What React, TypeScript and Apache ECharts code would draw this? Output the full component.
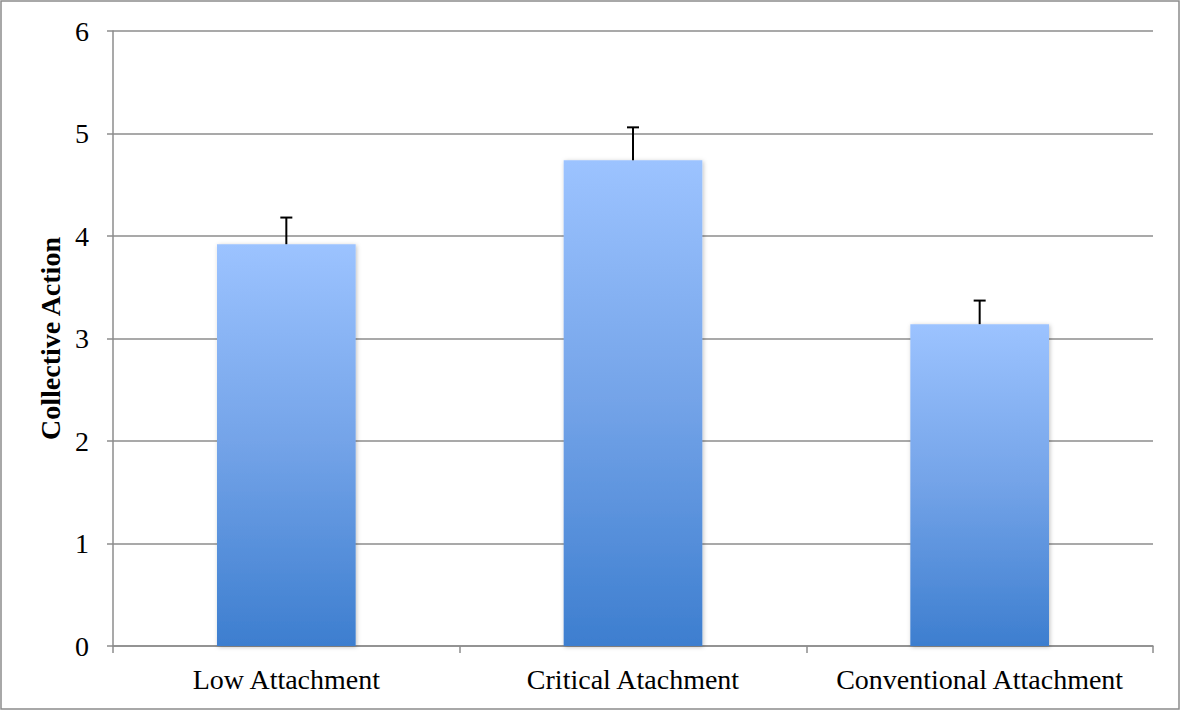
import React, { useEffect, useRef } from "react";
import * as echarts from "echarts";

const categories = ["Low Attachment", "Critical Atachment", "Conventional Attachment"];
const means = [3.92, 4.74, 3.14];
const errors = [0.26, 0.32, 0.23];
const yTicks = { min: 0, max: 6, interval: 1 };

export default function App() {
  const ref = useRef<HTMLDivElement>(null);
  useEffect(() => {
    document.body.style.margin = "0";
    const chart = echarts.init(ref.current!, undefined, { renderer: "svg" });
    const font = "'Liberation Serif', 'DejaVu Serif', serif";
    chart.setOption({
      animation: false,
      backgroundColor: "#ffffff",
      grid: { left: 113, right: 28, top: 31, bottom: 65, containLabel: false },
      graphic: [
        {
          type: "rect",
          shape: { x: 1, y: 1, width: 1178, height: 708 },
          style: { fill: "none", stroke: "#8c8c8c", lineWidth: 1.5 },
          silent: true,
        },
      ],
      xAxis: {
        type: "category",
        data: categories,
        axisLine: { lineStyle: { color: "#8c8c8c", width: 1.5 } },
        axisTick: { show: true, length: 7, lineStyle: { color: "#8c8c8c", width: 1.5 } },
        axisLabel: { color: "#000", fontFamily: font, fontSize: 28, margin: 19, interval: 0, hideOverlap: false },
      },
      yAxis: {
        type: "value",
        min: yTicks.min,
        max: yTicks.max,
        interval: yTicks.interval,
        name: "Collective Action",
        nameLocation: "middle",
        nameGap: 47,
        nameTextStyle: { color: "#000", fontFamily: font, fontSize: 28, fontWeight: "bold" },
        axisLine: { show: true, lineStyle: { color: "#8c8c8c", width: 1.5 } },
        axisTick: { show: true, length: 6, lineStyle: { color: "#8c8c8c", width: 1.5 } },
        axisLabel: { color: "#000", fontFamily: font, fontSize: 28, margin: 24 },
        splitLine: { lineStyle: { color: "#8c8c8c", width: 1.5 } },
      },
      series: [
        {
          type: "bar",
          data: means,
          barWidth: "40%",
          itemStyle: {
            color: new echarts.graphic.LinearGradient(0, 0, 0, 1, [
              { offset: 0, color: "#9cc3ff" },
              { offset: 0.5, color: "#73a3e8" },
              { offset: 1, color: "#3d7ecf" },
            ]),
            shadowColor: "rgba(0,0,0,0.25)",
            shadowBlur: 4,
            shadowOffsetX: 1,
            shadowOffsetY: 1,
          },
          z: 2,
        },
        {
          type: "custom",
          z: 5,
          data: means.map((m, i) => [i, m, m + errors[i]]),
          renderItem: (params: any, api: any) => {
            const x = api.value(0);
            const lo = api.coord([x, api.value(1)]);
            const hi = api.coord([x, api.value(2)]);
            const cap = 6;
            return {
              type: "group",
              children: [
                {
                  type: "line",
                  shape: { x1: lo[0], y1: lo[1], x2: hi[0], y2: hi[1] },
                  style: { stroke: "#000", lineWidth: 2 },
                },
                {
                  type: "line",
                  shape: { x1: hi[0] - cap, y1: hi[1], x2: hi[0] + cap, y2: hi[1] },
                  style: { stroke: "#000", lineWidth: 2 },
                },
              ],
            };
          },
        },
      ],
    });
    return () => chart.dispose();
  }, []);
  return <div ref={ref} style={{ width: 1181, height: 711 }} />;
}
